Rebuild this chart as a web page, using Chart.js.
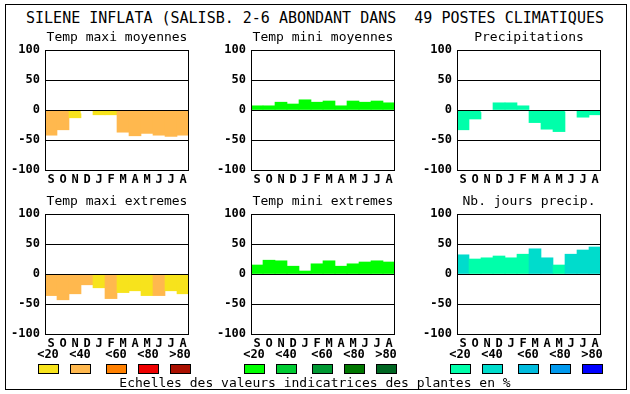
<!DOCTYPE html>
<html>
<head>
<meta charset="utf-8">
<script src="https://cdn.jsdelivr.net/npm/chart.js"></script>
<style>
  body { margin: 0; background: #fff; }
  #page { position: relative; width: 630px; height: 394px; background: #fff; font-family: 'DejaVu Sans Mono', monospace; }
  #frame { position: absolute; left: 5px; top: 4px; width: 620px; height: 384px; border: 1px solid #000; }
  #title { position: absolute; left: 0; top: 10px; width: 630px; text-align: center; font-size: 15px; line-height: 16px; white-space: pre; }
  .box { position: absolute; }
  .lg-label { position: absolute; width: 26px; text-align: center; font-size: 12px; font-weight: bold; line-height: 13px; }
  .lg-swatch { position: absolute; width: 21px; height: 10px; box-sizing: border-box; border: 1px solid #000; }
  #footer { position: absolute; left: 0; top: 376px; width: 630px; text-align: center; font-size: 13px; line-height: 14px; }
</style>
</head>
<body>
<div id="page">
  <div id="frame"></div>
  <div id="title">SILENE INFLATA (SALISB. 2-6 ABONDANT DANS  49 POSTES CLIMATIQUES</div>
  <div class="box" style="left:0px;top:25px"><canvas id="c1" width="192" height="167"></canvas></div>
  <div class="box" style="left:206px;top:25px"><canvas id="c2" width="192" height="167"></canvas></div>
  <div class="box" style="left:412px;top:25px"><canvas id="c3" width="192" height="167"></canvas></div>
  <div class="box" style="left:0px;top:189px"><canvas id="c4" width="192" height="167"></canvas></div>
  <div class="box" style="left:206px;top:189px"><canvas id="c5" width="192" height="167"></canvas></div>
  <div class="box" style="left:412px;top:189px"><canvas id="c6" width="192" height="167"></canvas></div>
  <div id="legends"></div>
  <div id="footer">Echelles des valeurs indicatrices des plantes en %</div>
</div>
<script>
var months = ['S', 'O', 'N', 'D', 'J', 'F', 'M', 'A', 'M', 'J', 'J', 'A'];
var yTicks = [100, 50, 0, -50, -100];
var legendLabels = ['<20', '<40', '<60', '<80', '>80'];

// valeurs (en %) et classe de couleur (-1 = blanc)
var tempMaxiMoy = [-42, -33, -13, -5, -8, -8, -37, -43, -39, -42, -44, -42];
var tempMaxiMoyClass = [1, 1, 0, -1, 0, 0, 1, 1, 1, 1, 1, 1];
var tempMiniMoy = [7, 7, 13, 10, 17, 13, 15, 7, 15, 13, 15, 12];
var tempMiniMoyClass = [0, 0, 0, 0, 0, 0, 0, 0, 0, 0, 0, 0];
var precip = [-33, -15, -3, 12, 12, 7, -21, -32, -36, -2, -12, -8];
var precipClass = [0, 0, -1, 0, 0, 0, 0, 0, 0, -1, 0, 0];
var tempMaxiExt = [-36, -43, -33, -18, -23, -41, -31, -28, -36, -36, -28, -33];
var tempMaxiExtClass = [1, 1, 1, 1, 0, 1, 0, 0, 0, 1, 0, 0];
var tempMiniExt = [15, 23, 22, 13, 5, 17, 22, 13, 17, 20, 22, 20];
var tempMiniExtClass = [0, 0, 0, 0, 0, 0, 0, 0, 0, 0, 0, 0];
var nbJours = [32, 25, 27, 30, 27, 33, 42, 27, 15, 33, 40, 45];
var nbJoursClass = [1, 0, 0, 0, 0, 0, 1, 1, 0, 1, 1, 1];

var warm = ['#f7e31c', '#ffb84e', '#ff8000', '#ee0000', '#aa1000'];
var green = ['#00ff00', '#00cc33', '#009933', '#007700', '#006622'];
var blue = ['#00ffaa', '#00dccc', '#00bbdd', '#0099ee', '#0000ff'];

Chart.defaults.font.family = "'DejaVu Sans Mono', monospace";
Chart.defaults.color = '#000';

var framePlugin = {
  id: 'frame',
  afterDatasetsDraw: function(chart) {
    var a = chart.chartArea, c = chart.ctx, y = chart.scales.y;
    c.save();
    c.strokeStyle = '#000';
    c.lineWidth = 1;
    c.strokeRect(a.left + 0.5, a.top + 0.5, a.right - a.left - 1, a.bottom - a.top);
    var z = Math.round(y.getPixelForValue(0)) + 0.5;
    c.beginPath();
    c.moveTo(a.left, z);
    c.lineTo(a.right, z);
    c.stroke();
    c.font = "13px 'DejaVu Sans Mono', monospace";
    c.fillStyle = '#000';
    c.textAlign = 'center';
    c.textBaseline = 'middle';
    c.fillText(chart.options.plugins.frame.text, (a.left + a.right) / 2, a.top - 12);
    c.restore();
  }
};

function makeChart(id, title, values, classes, palette) {
  var colors = classes.map(function(k) { return k < 0 ? '#ffffff' : palette[k]; });
  return new Chart(document.getElementById(id), {
    type: 'bar',
    data: {
      labels: months,
      datasets: [{
        data: values,
        backgroundColor: colors,
        borderWidth: 0,
        barPercentage: 1,
        categoryPercentage: 1
      }]
    },
    options: {
      responsive: false,
      animation: false,
      layout: { padding: { top: 25, right: 3, left: 0, bottom: 0 } },
      plugins: { legend: { display: false }, tooltip: { enabled: false }, frame: { text: title } },
      scales: {
        x: {
          grid: { display: false, drawTicks: false },
          border: { display: false },
          ticks: { font: { size: 12, weight: 'bold' }, padding: 3, maxRotation: 0, autoSkip: false },
          afterFit: function(s) { s.height = 22; }
        },
        y: {
          min: -100,
          max: 100,
          afterBuildTicks: function(s) { s.ticks = yTicks.map(function(v) { return { value: v }; }); },
          grid: { color: '#000', lineWidth: 1, drawTicks: false },
          border: { display: false },
          ticks: { font: { size: 12, weight: 'bold' }, padding: 5 },
          afterFit: function(s) { s.width = 45; }
        }
      }
    },
    plugins: [framePlugin]
  });
}

makeChart('c1', 'Temp maxi moyennes', tempMaxiMoy, tempMaxiMoyClass, warm);
makeChart('c2', 'Temp mini moyennes', tempMiniMoy, tempMiniMoyClass, green);
makeChart('c3', 'Precipitations', precip, precipClass, blue);
makeChart('c4', 'Temp maxi extremes', tempMaxiExt, tempMaxiExtClass, warm);
makeChart('c5', 'Temp mini extremes', tempMiniExt, tempMiniExtClass, green);
makeChart('c6', 'Nb. jours precip.', nbJours, nbJoursClass, blue);

// echelles de couleur sous les graphiques du bas
var plotLefts = [45, 251, 457];
var offsets = [-7, 25, 61, 93, 125];
var palettes = [warm, green, blue];
var lg = document.getElementById('legends');
plotLefts.forEach(function(px, g) {
  offsets.forEach(function(o, i) {
    var t = document.createElement('div');
    t.className = 'lg-label';
    t.style.left = (px + o - 3) + 'px';
    t.style.top = '348px';
    t.textContent = legendLabels[i];
    lg.appendChild(t);
    var b = document.createElement('div');
    b.className = 'lg-swatch';
    b.style.left = (px + o) + 'px';
    b.style.top = '364px';
    b.style.background = palettes[g][i];
    lg.appendChild(b);
  });
});
</script>
</body>
</html>
